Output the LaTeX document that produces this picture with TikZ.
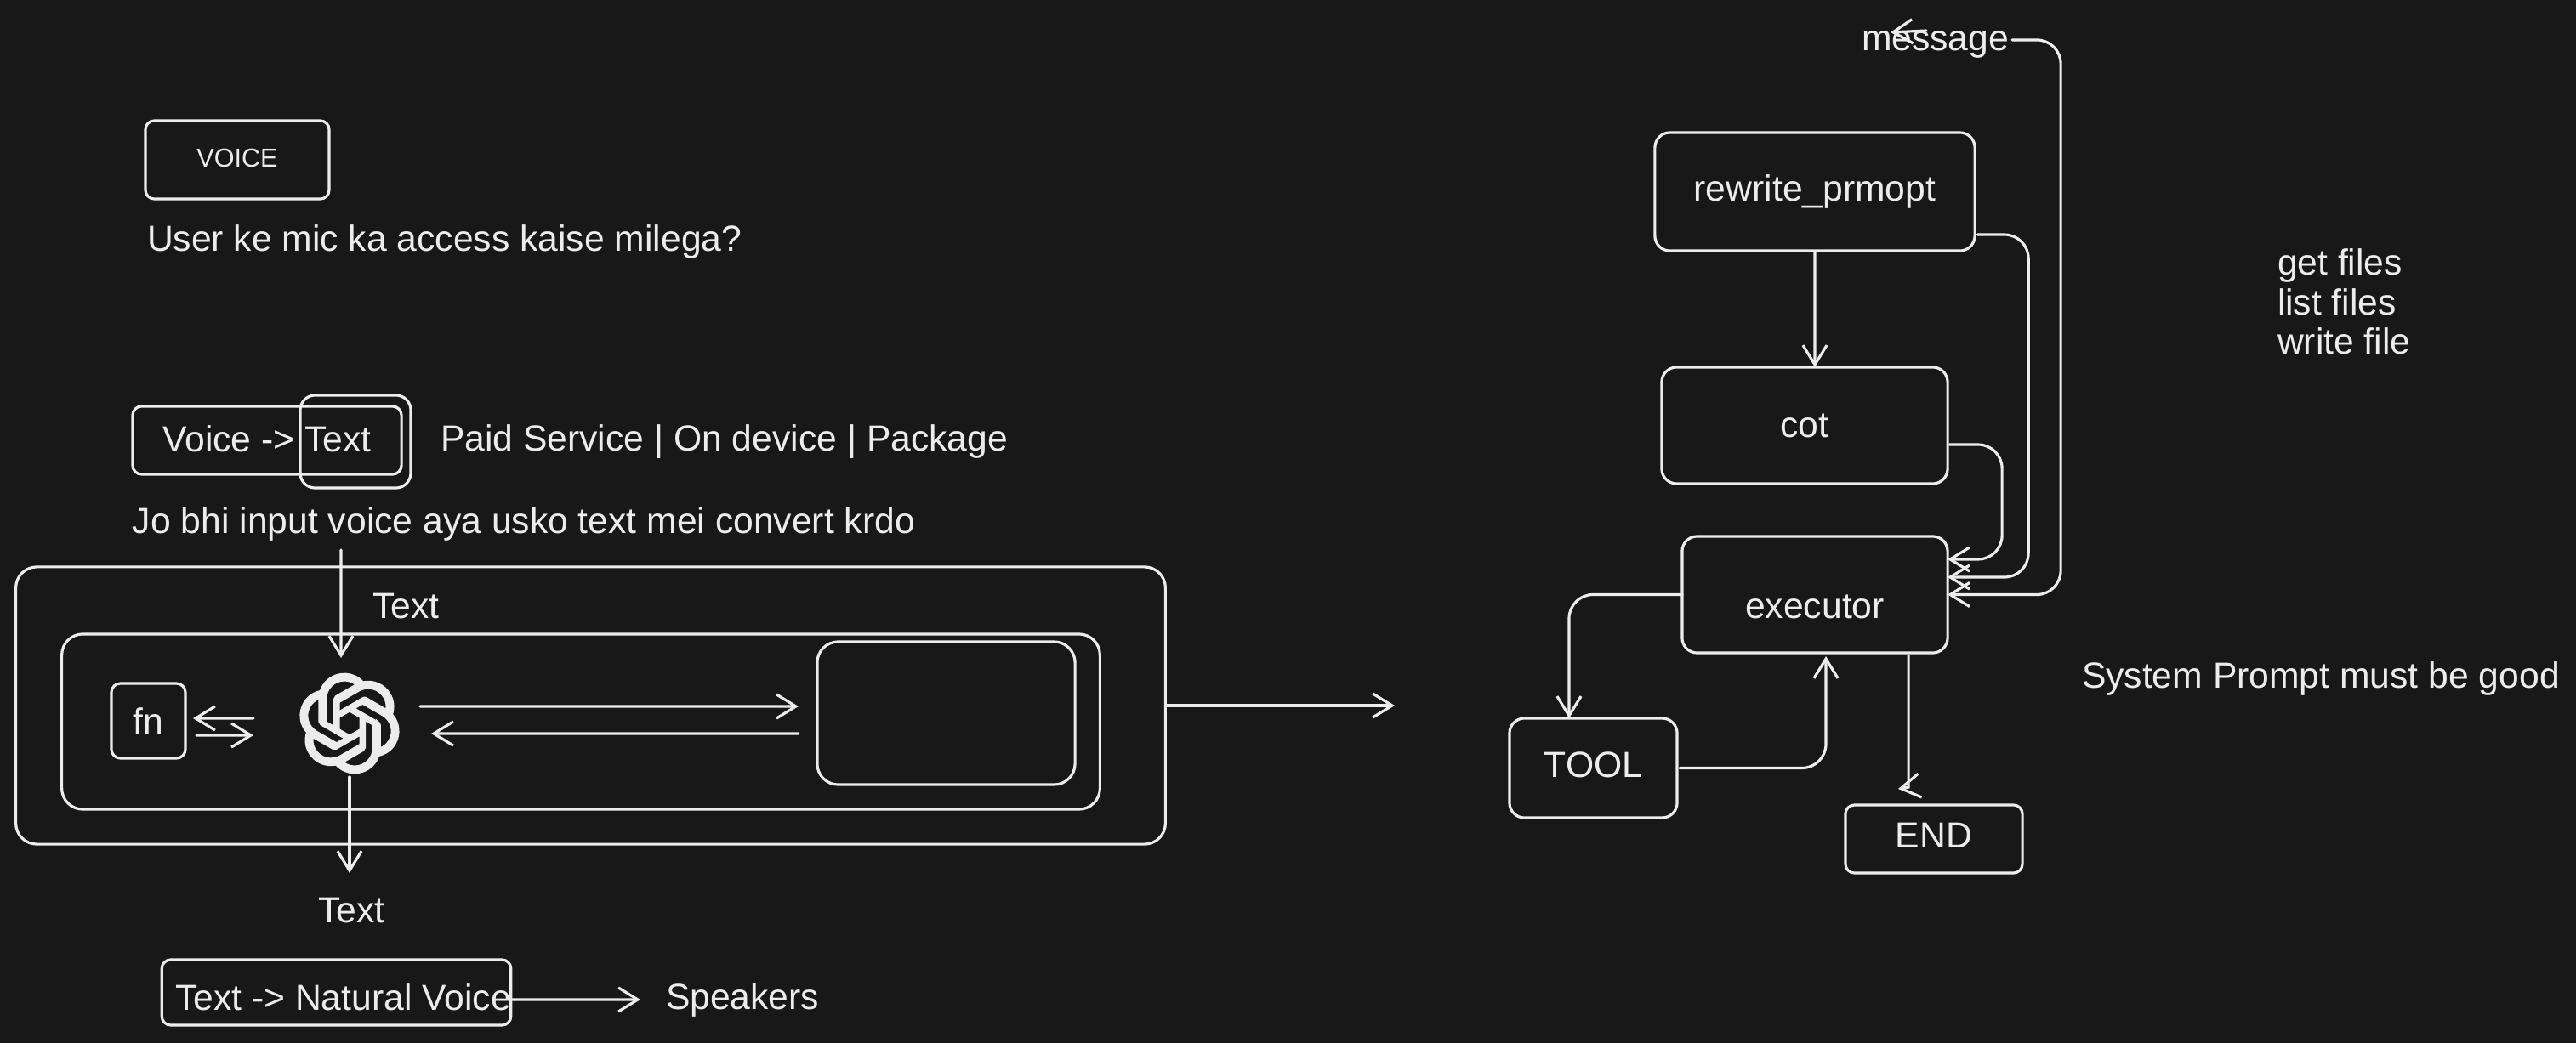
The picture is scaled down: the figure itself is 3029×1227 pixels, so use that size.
\documentclass[tikz,border=0pt]{standalone}
\usepackage{fontspec}
\setmainfont{Liberation Sans}
\usetikzlibrary{arrows.meta, svg.path}
\definecolor{canvasbg}{HTML}{181818}
\definecolor{ink}{HTML}{ECECEC}
\begin{document}
\begin{tikzpicture}[x=.01cm, y=-.01cm, font=\fontsize{12.13}{14}\selectfont, text=ink, every node/.style={inner sep=0pt, outer sep=0pt}, box/.style={draw=ink, line width=.9pt, rounded corners=5pt}, bigbox/.style={box, rounded corners=7pt}, smallbox/.style={box, rounded corners=3pt}, caption/.style={anchor=base west}, flow/.style={draw=ink, line width=.9pt, line cap=round, rounded corners=8pt, -{Straight Barb[length=6.5pt, width=8pt]}}]
        \fill[canvasbg] (0, 0) rectangle (3029, 1227);
        \useasboundingbox (0, 0) rectangle (3029, 1227);

        \node[smallbox, minimum width=2.16cm, minimum height=.92cm, text depth=1.1pt, font=\fontsize{8.7}{10}\selectfont] (voice) at (279, 188) {VOICE};
        \node[caption] (micquestion) at (173, 295) {User ke mic ka access kaise milega?};
        \node[smallbox, minimum width=3.16cm, minimum height=.8cm, text depth=1.1pt] (voicetext) at (314, 518) {Voice -> Text};
        \node[box, minimum width=1.3cm, minimum height=1.09cm] (textframe) at (418, 519.5) {};
        \node[caption] (options) at (518, 530) {Paid Service | On device | Package};
        \node[caption] (convertnote) at (156, 627) {Jo bhi input voice aya usko text mei convert krdo};

        \node[bigbox, minimum width=13.51cm, minimum height=3.26cm] (outer) at (694.5, 830) {};
        \node[bigbox, minimum width=12.2cm, minimum height=2.06cm] (inner) at (683, 849) {};
        \node[bigbox, minimum width=3.03cm, minimum height=1.68cm] (reply) at (1112.5, 839) {};
        \node[smallbox, minimum width=.87cm, minimum height=.88cm] (fn) at (174.5, 848) {fn};
        \node[minimum size=1.16cm] (gptlogo) at (411, 851) {};
        \begin{scope}[shift={(411, 851)}, xscale=1.38, yscale=-1.38, shift={(-12pt, -12pt)}]
            \filldraw[ink, line width=.65pt] svg {M 22.2819 9.8211 a 5.9847 5.9847 0 0 0 -0.5157 -4.9108 a 6.0462 6.0462 0 0 0 -6.5098 -2.9 A 6.0651 6.0651 0 0 0 4.9807 4.1818 a 5.9847 5.9847 0 0 0 -3.9977 2.9 a 6.0462 6.0462 0 0 0 0.7427 7.0966 a 5.98 5.98 0 0 0 0.511 4.9107 a 6.051 6.051 0 0 0 6.5146 2.9001 A 5.9847 5.9847 0 0 0 13.2599 24 a 6.0557 6.0557 0 0 0 5.7718 -4.2058 a 5.9894 5.9894 0 0 0 3.9977 -2.9001 a 6.0557 6.0557 0 0 0 -0.7475 -7.0729 z
            M 13.2599 22.4292 a 4.4755 4.4755 0 0 1 -2.8764 -1.0408 l 0.1419 -0.0804 l 4.7783 -2.7582 a 0.7948 0.7948 0 0 0 0.3927 -0.6813 v -6.7369 l 2.02 1.1686 l 0.038 0.052 v 5.5826 a 4.504 4.504 0 0 1 -4.4945 4.4944 z
            M 3.5992 18.3038 a 4.4708 4.4708 0 0 1 -0.5346 -3.0137 l 0.142 0.0852 l 4.783 2.7582 a 0.7712 0.7712 0 0 0 0.7806 0 l 5.8428 -3.3685 v 2.3324 l -0.0332 0.0615 L 9.74 19.9502 a 4.4992 4.4992 0 0 1 -6.1408 -1.6464 z
            M 2.3408 7.8956 a 4.485 4.485 0 0 1 2.3655 -1.9728 V 11.6 a 0.7664 0.7664 0 0 0 0.3879 0.6765 l 5.8144 3.3543 l -2.0201 1.1685 l -0.071 0 l -4.8303 -2.7865 A 4.504 4.504 0 0 1 2.3408 7.872 z
            M 18.9371 11.7514 L 13.1038 8.364 L 15.1192 7.2 l 0.071 0 l 4.8303 2.7913 a 4.4944 4.4944 0 0 1 -0.6765 8.1042 v -5.6772 a 0.79 0.79 0 0 0 -0.407 -0.667 z
            M 20.9478 8.7283 l -0.142 -0.0852 l -4.7735 -2.7818 a 0.7759 0.7759 0 0 0 -0.7854 0 L 9.409 9.2297 V 6.8974 l 0.0284 -0.0615 l 4.8303 -2.7866 a 4.4992 4.4992 0 0 1 6.6802 4.66 z
            M 8.3065 12.863 l -2.02 -1.1638 l -0.038 -0.0567 V 6.0742 a 4.4992 4.4992 0 0 1 7.3757 -3.4537 l -0.142 0.0805 L 8.704 5.459 a 0.7948 0.7948 0 0 0 -0.3927 0.6813 z
            M 9.4041 10.4976 l 2.602 -1.4998 l 2.6069 1.4998 v 2.9994 l -2.5974 1.4997 l -2.6067 -1.4997 Z};
        \end{scope}
        \node[caption] (textin) at (438, 727) {Text};
        \node[caption] (textout) at (374, 1085) {Text};
        \node[smallbox, minimum width=4.09cm, minimum height=.77cm, text height=12.2pt] (naturalvoice) at (395.5, 1167.5) {\hspace{4.5pt}Text -> Natural Voice};
        \node[caption] (speakers) at (783, 1187) {Speakers};

        \node[box, minimum width=3.76cm, minimum height=1.39cm] (rewrite) at (2134, 225.5) {rewrite\_prmopt};
        \node[box, minimum width=3.36cm, minimum height=1.37cm] (cot) at (2122, 500.5) {cot};
        \node[box, minimum width=3.12cm, minimum height=1.37cm, text height=16.2pt] (executor) at (2134, 699.5) {executor};
        \node[box, minimum width=1.97cm, minimum height=1.17cm, text depth=2.3pt] (tool) at (1873.5, 903.5) {TOOL};
        \node[smallbox, minimum width=2.08cm, minimum height=.8cm, text depth=2.3pt] (endbox) at (2274, 987) {END};
        \node[caption] (message) at (2189, 59) {message};
        \node[caption] (getfiles) at (2678, 323) {get files};
        \node[caption] (listfiles) at (2678, 370) {list files};
        \node[caption] (writefile) at (2678, 416) {write file};
        \node[caption] (sysprompt) at (2448, 809) {System Prompt must be good};

        \coordinate (voicein) at (401, 647);
        \coordinate (handoff) at (1640, 830);
        \coordinate (msgtail) at (2265, 36);
        \coordinate (msgtip) at (2223, 38);

        \draw[flow] (voicein) -- ([xshift=-.1cm, yshift=.19cm]gptlogo.north);
        \draw[flow] ([xshift=.25cm, yshift=.2cm]gptlogo.east) -- ([xshift=-.22cm, yshift=.08cm]reply.west);
        \draw[flow] ([xshift=-.22cm, yshift=-.24cm]reply.west) -- ([xshift=.38cm, yshift=-.12cm]gptlogo.east);
        \draw[flow] ([xshift=-.55cm, yshift=.06cm]gptlogo.west) -- ([xshift=.09cm, yshift=.03cm]fn.east);
        \draw[flow] ([xshift=.13cm, yshift=-.17cm]fn.east) -- ([xshift=-.55cm, yshift=-.14cm]gptlogo.west);
        \draw[flow] ([yshift=-.05cm]gptlogo.south) -- ++(0, -1.13cm);
        \draw[flow] ([xshift=.02cm]outer.east) -- (handoff);
        \draw[flow] ([yshift=-.085cm]naturalvoice.east) -- ([xshift=-.3cm]speakers.west);

        \draw[flow] ([yshift=-.02cm]rewrite.south) -- ([xshift=.12cm]cot.north);
        \draw[flow] ([xshift=.03cm, yshift=-.505cm]rewrite.east) -- ++(.6cm, 0) |- ([yshift=.205cm]executor.east);
        \draw[flow] ([xshift=.02cm, yshift=-.225cm]cot.east) -- ++(.62cm, 0) |- ([yshift=.415cm]executor.east);
        \draw[flow] ([xshift=.04cm, yshift=.05cm]message.east) -- ++(.57cm, 0) |- (executor.east);
        \draw[flow] (executor.west) -| ([xshift=-.285cm]tool.north);
        \draw[flow] ([xshift=.03cm]tool.east) -| ([xshift=.13cm, yshift=-.04cm]executor.south);
        \draw[flow, rounded corners=0pt] ([xshift=1.1cm, yshift=-.03cm]executor.south) -- ++(0, -1.55cm) -- ([xshift=-.42cm, yshift=.19cm]endbox.north);
        \draw[flow] (msgtail) -- (msgtip);
    \end{tikzpicture}
\end{document}
